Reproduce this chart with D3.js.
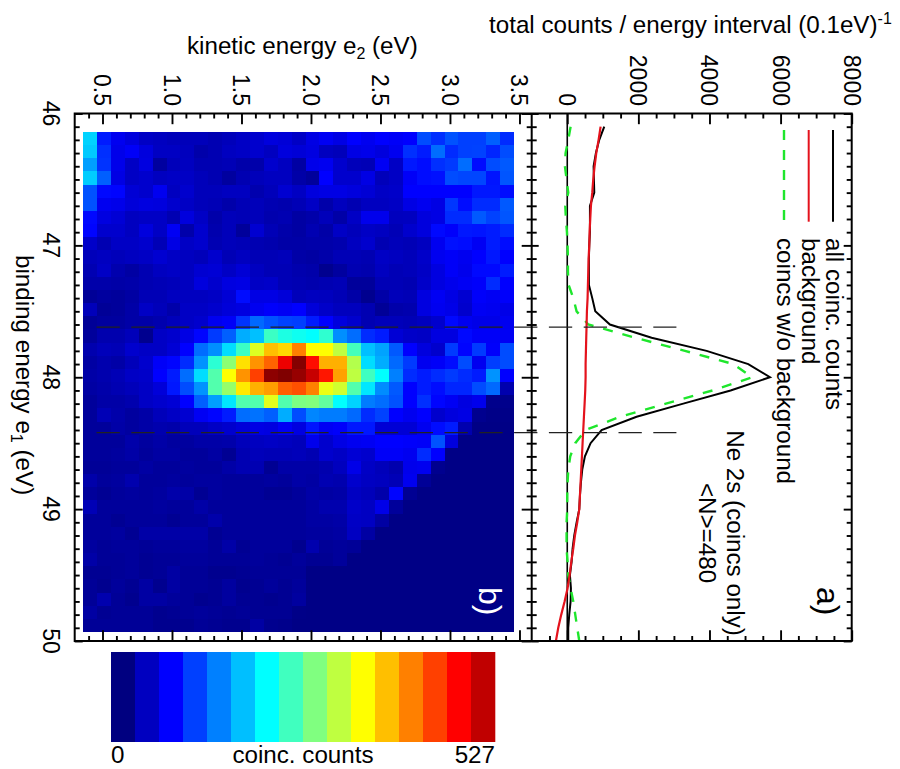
<!DOCTYPE html>
<html>
<head>
<meta charset="utf-8">
<script src="https://cdn.jsdelivr.net/npm/d3@7"></script>
<style>
  html, body { margin: 0; padding: 0; background: #fff; }
  text { font-family: "Liberation Sans", Arial, sans-serif; fill: #000; }
  .tick line, .domain { stroke: #000; }
</style>
</head>
<body>
<script>
// binding energy bins of the spectrum (eV)
const energies = [46.1,46.2,46.3,46.4,46.5,46.6,46.7,46.8,46.9,47.0,47.1,47.2,47.3,47.4,47.5,47.6,47.7,47.8,47.9,48.0,
    48.1,48.2,48.3,48.4,48.5,48.6,48.7,48.8,48.9,49.0,49.1,49.2,49.3,49.4,49.5,49.6,49.7,49.8,49.9,50.0];

const allCounts = [1041,900,806,741,750,760,638,638,638,619,609,609,609,703,788,1200,2372,3919,5091,5701,
    4594,3263,1950,966,656,497,422,384,356,338,263,197,150,122,75,103,94,56,28,28];
const background = [938,881,816,769,731,703,666,647,628,619,600,591,581,572,553,544,534,525,516,516,
    506,488,469,450,431,413,394,375,356,338,281,216,169,113,66,9,-75,-169,-253,-319];
const noBackground = [94,28,-47,-66,-19,28,-56,-38,-9,9,19,19,38,169,263,591,1903,3310,4669,5204,
    4088,2775,1481,516,225,84,28,9,0,0,-19,-19,-19,9,28,94,169,225,281,338];

// coincidence map, one row per binding energy bin, one column per kinetic energy bin
const heatRows = [
[175,80,58,48,36,33,30,30,30,26,30,36,40,48,45,36,52,60,52,66,58,66,62,66,105,90,108,99,99,115,88],
[170,90,55,62,48,35,35,32,22,26,33,36,40,33,48,45,50,33,30,52,55,48,58,90,80,122,88,99,100,85,105],
[148,92,55,36,50,16,30,33,26,26,28,22,22,40,33,18,55,58,40,30,28,60,36,78,72,90,96,122,72,105,112],
[172,115,52,36,40,33,36,36,30,26,16,26,30,33,33,20,14,66,40,40,52,30,36,62,72,74,105,102,102,76,110],
[108,70,68,44,40,58,33,40,30,30,33,33,24,30,42,35,48,52,52,48,44,36,38,66,66,66,66,66,78,78,72],
[108,58,55,46,50,48,40,36,30,28,22,28,30,26,24,28,36,22,32,26,33,33,36,52,58,52,94,72,88,88,112],
[70,50,44,33,36,36,26,48,36,22,30,28,30,24,26,18,22,30,20,36,56,56,32,33,48,52,88,88,112,100,110],
[68,40,40,33,48,36,60,22,40,24,30,14,42,28,22,18,26,20,36,30,36,33,28,40,48,70,64,78,76,80,88],
[38,26,36,36,40,28,52,36,40,26,30,28,26,24,20,20,22,22,24,33,40,26,30,28,33,58,74,72,60,80,72],
[30,33,30,33,36,42,36,33,30,40,28,33,28,28,30,20,18,22,28,28,26,36,33,30,38,58,62,58,66,78,66],
[26,36,24,18,26,33,36,33,42,44,36,44,33,28,28,24,22,8,16,26,24,33,28,30,36,50,62,56,70,70,80],
[22,22,20,22,26,28,30,33,48,40,50,52,36,38,28,26,24,26,28,14,14,28,28,26,38,50,56,60,64,88,66],
[12,16,14,18,28,28,33,33,33,36,44,72,52,52,46,30,33,32,28,20,8,20,30,28,50,60,52,42,64,60,64],
[30,12,14,20,36,30,22,36,36,40,46,50,58,64,60,66,46,38,32,32,26,12,22,24,50,58,54,40,60,58,54],
[12,16,16,20,20,24,30,36,40,58,62,92,120,108,100,98,80,66,48,40,26,30,30,28,32,40,70,58,54,54,58],
[14,24,24,30,8,36,40,52,68,96,115,155,165,228,212,205,198,222,140,122,88,80,44,38,36,50,50,70,62,62,60],
[24,30,28,40,36,36,44,66,122,140,180,228,312,362,350,395,329,329,296,232,165,150,112,66,48,40,96,68,96,64,105],
[18,24,20,30,40,62,68,88,142,220,270,345,385,410,470,525,455,370,370,290,180,155,120,96,58,62,72,105,58,98,105],
[20,24,28,36,38,66,80,122,180,240,329,385,428,520,527,515,490,450,378,296,230,198,132,88,80,88,96,88,80,142,66],
[18,22,26,30,36,46,78,105,142,240,275,340,370,380,412,420,395,320,305,240,185,138,112,66,80,72,85,85,105,120,24],
[14,20,20,24,36,40,44,66,115,148,185,240,240,315,240,262,265,248,198,175,130,122,108,66,90,68,60,50,56,6,6],
[14,28,22,16,20,30,36,42,60,68,80,122,125,115,155,105,135,130,130,120,88,100,66,58,66,40,48,52,8,4,4],
[14,14,20,16,20,24,22,30,30,36,40,46,52,50,60,50,76,60,64,78,78,44,44,44,58,72,80,24,3,3,3],
[14,14,14,22,16,20,16,16,20,20,22,30,33,36,33,30,56,40,52,58,60,66,66,64,62,108,48,3,3,3,3],
[14,14,16,20,14,18,18,14,14,18,10,26,30,28,28,30,26,40,36,44,40,62,62,58,88,66,3,3,3,3,3],
[12,12,14,14,18,14,14,16,14,14,20,26,26,10,20,20,20,24,32,54,36,30,24,56,58,8,3,3,3,3,3],
[22,14,16,24,14,14,16,14,16,16,14,14,14,16,14,20,18,26,24,40,34,32,28,58,12,3,3,3,3,3,3],
[14,10,14,16,14,16,22,20,10,16,14,14,14,10,10,14,20,18,20,34,30,22,68,10,3,3,3,3,3,3,3],
[28,14,14,14,14,16,14,14,20,14,14,14,14,14,14,14,18,24,24,38,34,54,14,3,3,3,3,3,3,3,3],
[14,14,10,14,14,14,10,14,14,22,14,14,14,14,14,14,18,18,20,36,34,18,3,3,3,3,3,3,3,3,3],
[14,14,16,10,20,20,20,20,20,10,14,14,14,14,14,14,16,16,18,34,18,3,3,3,3,3,3,3,3,3,3],
[16,12,14,14,12,14,14,16,16,12,20,10,14,14,14,8,24,12,14,12,3,3,3,3,3,3,3,3,3,3,3],
[20,12,12,14,10,12,12,14,14,12,12,12,14,12,10,14,10,10,14,3,3,3,3,3,3,3,3,3,3,3,3],
[10,10,12,14,10,12,18,12,12,8,8,10,12,12,12,12,3,3,3,3,3,3,3,3,3,3,3,3,3,3,3],
[12,8,14,10,18,8,18,12,12,10,16,8,10,14,10,14,3,3,3,3,3,3,3,3,3,3,3,3,3,3,3],
[12,24,12,8,18,18,14,12,8,10,16,10,10,8,10,16,3,3,3,3,3,3,3,3,3,3,3,3,3,3,3],
[18,10,12,12,12,8,10,12,14,12,10,12,10,10,10,4,3,3,3,3,3,3,3,3,3,3,3,3,3,3,3],
[12,12,12,12,12,8,8,8,12,10,8,8,18,8,6,3,3,3,3,3,3,3,3,3,3,3,3,3,3,3,3]
];
const heatBindingStart = 46.14, heatKineticStart = 0.361, heatStep = 0.1, bindingStep = 0.0998;

// peak window markers
const windowEdges = [47.62, 48.42];

const kineticTicks = [0.5, 1.0, 1.5, 2.0, 2.5, 3.0, 3.5];
const kineticMinor = [0.4,0.6,0.7,0.8,0.9,1.1,1.2,1.3,1.4,1.6,1.7,1.8,1.9,2.1,2.2,2.3,2.4,2.6,2.7,2.8,2.9,3.1,3.2,3.3,3.4];
const bindingTicks = [46, 47, 48, 49, 50];
const bindingMinor = d3.range(46, 50.01, 0.1).map(d => +d.toFixed(1)).filter(d => d % 1 !== 0);
const countTicks = [0, 2000, 4000, 6000, 8000];
const countMinor = [-500, 500, 1000, 1500, 2500, 3000, 3500, 4500, 5000, 5500, 6500, 7000, 7500];

const colorStops = ["#000080", "#0000ff", "#00ffff", "#ffff00", "#ff0000", "#800000"];
const colorPositions = [0, 1/8, 3/8, 5/8, 7/8, 1];
const colorMax = 527;
const colorBands = d3.range(16);

const svg = d3.select("body").append("svg").attr("width", 900).attr("height", 769);
svg.style("display", "block");

const xKinetic = d3.scaleLinear().domain([0.3, 3.588]).range([74.7, 531.7]);
const xCounts = d3.scaleLinear().domain([-1000, 8000]).range([531.7, 851.7]);
const yBinding = d3.scaleLinear().domain([46, 50]).range([113.5, 641]);
const color = d3.scaleLinear().domain(colorPositions.map(d => d * colorMax)).range(colorStops);

const tickFont = 23, textFont = 24.2;
const green = "#1ee62c", red = "#e4121c", greenDash = "10,10";

// heat map
svg.append("g")
    .style("filter", "blur(0.5px)")
    .selectAll("g")
    .data(heatRows)
    .join("g")
    .selectAll("rect")
    .data((row, r) => row.map((v, c) => ({v: v, r: r, c: c})))
    .join("rect")
    .attr("x", d => xKinetic(heatKineticStart + d.c * heatStep))
    .attr("y", d => yBinding(heatBindingStart + d.r * bindingStep))
    .attr("width", xKinetic(heatStep) - xKinetic(0))
    .attr("height", yBinding(bindingStep) - yBinding(0))
    .attr("shape-rendering", "crispEdges")
    .attr("fill", d => color(d.v));

// zero line
svg.append("line")
    .attr("x1", xCounts(0)).attr("x2", xCounts(0))
    .attr("y1", yBinding(46)).attr("y2", yBinding(50))
    .attr("stroke", "#000").attr("stroke-width", 1.6);

// spectrum curves
const curve = values => d3.line()
    .x((d, i) => xCounts(values[i]))
    .y((d, i) => yBinding(energies[i]))(energies);

svg.append("clipPath").attr("id", "panel-a").append("rect")
    .attr("x", xCounts(-1000)).attr("y", yBinding(46))
    .attr("width", xCounts(8000) - xCounts(-1000)).attr("height", yBinding(50) - yBinding(46));

const curves = svg.append("g").attr("clip-path", "url(#panel-a)").attr("fill", "none");
curves.append("path").attr("d", curve(allCounts)).attr("stroke", "#000").attr("stroke-width", 2);
curves.append("path").attr("d", curve(noBackground)).attr("stroke", green).attr("stroke-width", 2.4)
    .attr("stroke-dasharray", greenDash);
curves.append("path").attr("d", curve(background)).attr("stroke", red).attr("stroke-width", 2.2);

// window markers run through both panels
svg.append("g").selectAll("line")
    .data(windowEdges)
    .join("line")
    .attr("x1", 96.5).attr("x2", xCounts(3070))
    .attr("y1", d => yBinding(d)).attr("y2", d => yBinding(d))
    .attr("stroke", "#222").attr("stroke-width", 1.1)
    .attr("stroke-dasharray", "23.3,11.5");

// frames
svg.append("rect")
    .attr("x", xKinetic(0.3)).attr("y", yBinding(46))
    .attr("width", xCounts(8000) - xKinetic(0.3)).attr("height", yBinding(50) - yBinding(46))
    .attr("fill", "none").attr("stroke", "#000").attr("stroke-width", 2);
svg.append("line")
    .attr("x1", xCounts(-1000)).attr("x2", xCounts(-1000))
    .attr("y1", yBinding(46)).attr("y2", yBinding(50))
    .attr("stroke", "#000").attr("stroke-width", 2);

// draws inward ticks only, the labels are added further down
function ticks(axis, scale, values, size, at) {
    const g = svg.append("g").attr("transform", at).call(
        axis(scale).tickValues(values).tickSize(size).tickFormat(""));
    g.select(".domain").remove();
    g.selectAll("line").attr("stroke-width", 1.9);
}
const atTop = `translate(0,${yBinding(46)})`, atBottom = `translate(0,${yBinding(50)})`;
const atLeft = `translate(${xKinetic(0.3)},0)`, atMiddle = `translate(${xCounts(-1000)},0)`, atRight = `translate(${xCounts(8000)},0)`;

ticks(d3.axisTop, xKinetic, kineticTicks, -10.7, atTop);
ticks(d3.axisTop, xKinetic, kineticMinor, -5, atTop);
ticks(d3.axisBottom, xKinetic, kineticTicks, -10.7, atBottom);
ticks(d3.axisBottom, xKinetic, kineticMinor, -5, atBottom);
ticks(d3.axisTop, xCounts, countTicks, -10.7, atTop);
ticks(d3.axisTop, xCounts, countMinor, -5, atTop);
ticks(d3.axisBottom, xCounts, countTicks, -10.7, atBottom);
ticks(d3.axisBottom, xCounts, countMinor, -5, atBottom);

ticks(d3.axisLeft, yBinding, bindingTicks, -8, atLeft);
ticks(d3.axisLeft, yBinding, bindingMinor, -5, atLeft);
ticks(d3.axisLeft, yBinding, bindingTicks, 10, atMiddle);
ticks(d3.axisLeft, yBinding, bindingMinor, 5, atMiddle);
ticks(d3.axisRight, yBinding, bindingTicks, 7, atMiddle);
ticks(d3.axisRight, yBinding, bindingMinor, 5, atMiddle);
ticks(d3.axisLeft, yBinding, bindingTicks, 8, atRight);
ticks(d3.axisLeft, yBinding, bindingMinor, 5, atRight);

// rotated text, reads top to bottom like the rest of the turned figure
function rotated(x, y, str, anchor, size) {
    return svg.append("text")
        .attr("transform", `translate(${x},${y}) rotate(90)`)
        .attr("text-anchor", anchor || "start")
        .attr("font-size", size || textFont)
        .text(str);
}

kineticTicks.forEach(d => rotated(xKinetic(d) - 8, 106, d.toFixed(1), "end", tickFont));
countTicks.forEach(d => rotated(xCounts(d) - 8, 106, d, "end", tickFont));
bindingTicks.forEach(d => rotated(43, yBinding(d), d, "middle", tickFont));

// axis titles
svg.append("text").attr("x", 187).attr("y", 54).attr("font-size", textFont)
    .html('kinetic energy e<tspan font-size="16" dy="5">2</tspan><tspan dy="-5"> (eV)</tspan>');
svg.append("text").attr("x", 489).attr("y", 33).attr("font-size", textFont)
    .html('total counts / energy interval (0.1eV)<tspan font-size="16" dy="-9">-1</tspan>');
rotated(16, 255, "").html('binding energy e<tspan font-size="16" dy="5">1</tspan><tspan dy="-5"> (eV)</tspan>');

// legend
const legendY = [130, 221.7];
const legend = [
    {label: "all coinc. counts", x: 833, stroke: "#000", dash: null},
    {label: "background", x: 808.7, stroke: red, dash: null},
    {label: "coincs w/o background", x: 784, stroke: green, dash: greenDash}
];
legend.forEach(d => {
    svg.append("line")
        .attr("x1", d.x).attr("x2", d.x)
        .attr("y1", legendY[0]).attr("y2", legendY[1])
        .attr("stroke", d.stroke).attr("stroke-width", d.dash ? 2.4 : 2)
        .attr("stroke-dasharray", d.dash);
    rotated(d.x - 7, 238, d.label);
});

rotated(727, 533, "Ne 2s (coincs only)", "middle");
rotated(699, 533, "<N>=480", "middle");
rotated(817, 587, "a)", "start", 32);
rotated(479, 587, "b)", "start", 32).style("fill", "#fff");

// colour bar
const xBar = d3.scaleBand().domain(colorBands).range([111, 495]);
svg.append("g").selectAll("rect")
    .data(colorBands)
    .join("rect")
    .attr("x", d => xBar(d))
    .attr("y", 652)
    .attr("width", xBar.bandwidth() + 0.3)
    .attr("height", 90)
    .attr("fill", d => color(d / 16 * colorMax));

svg.append("text").attr("x", 111).attr("y", 763).attr("font-size", textFont).text("0");
svg.append("text").attr("x", 303).attr("y", 763).attr("font-size", textFont).attr("text-anchor", "middle").text("coinc. counts");
svg.append("text").attr("x", 495).attr("y", 763).attr("font-size", textFont).attr("text-anchor", "end").text(colorMax);
</script>
</body>
</html>
